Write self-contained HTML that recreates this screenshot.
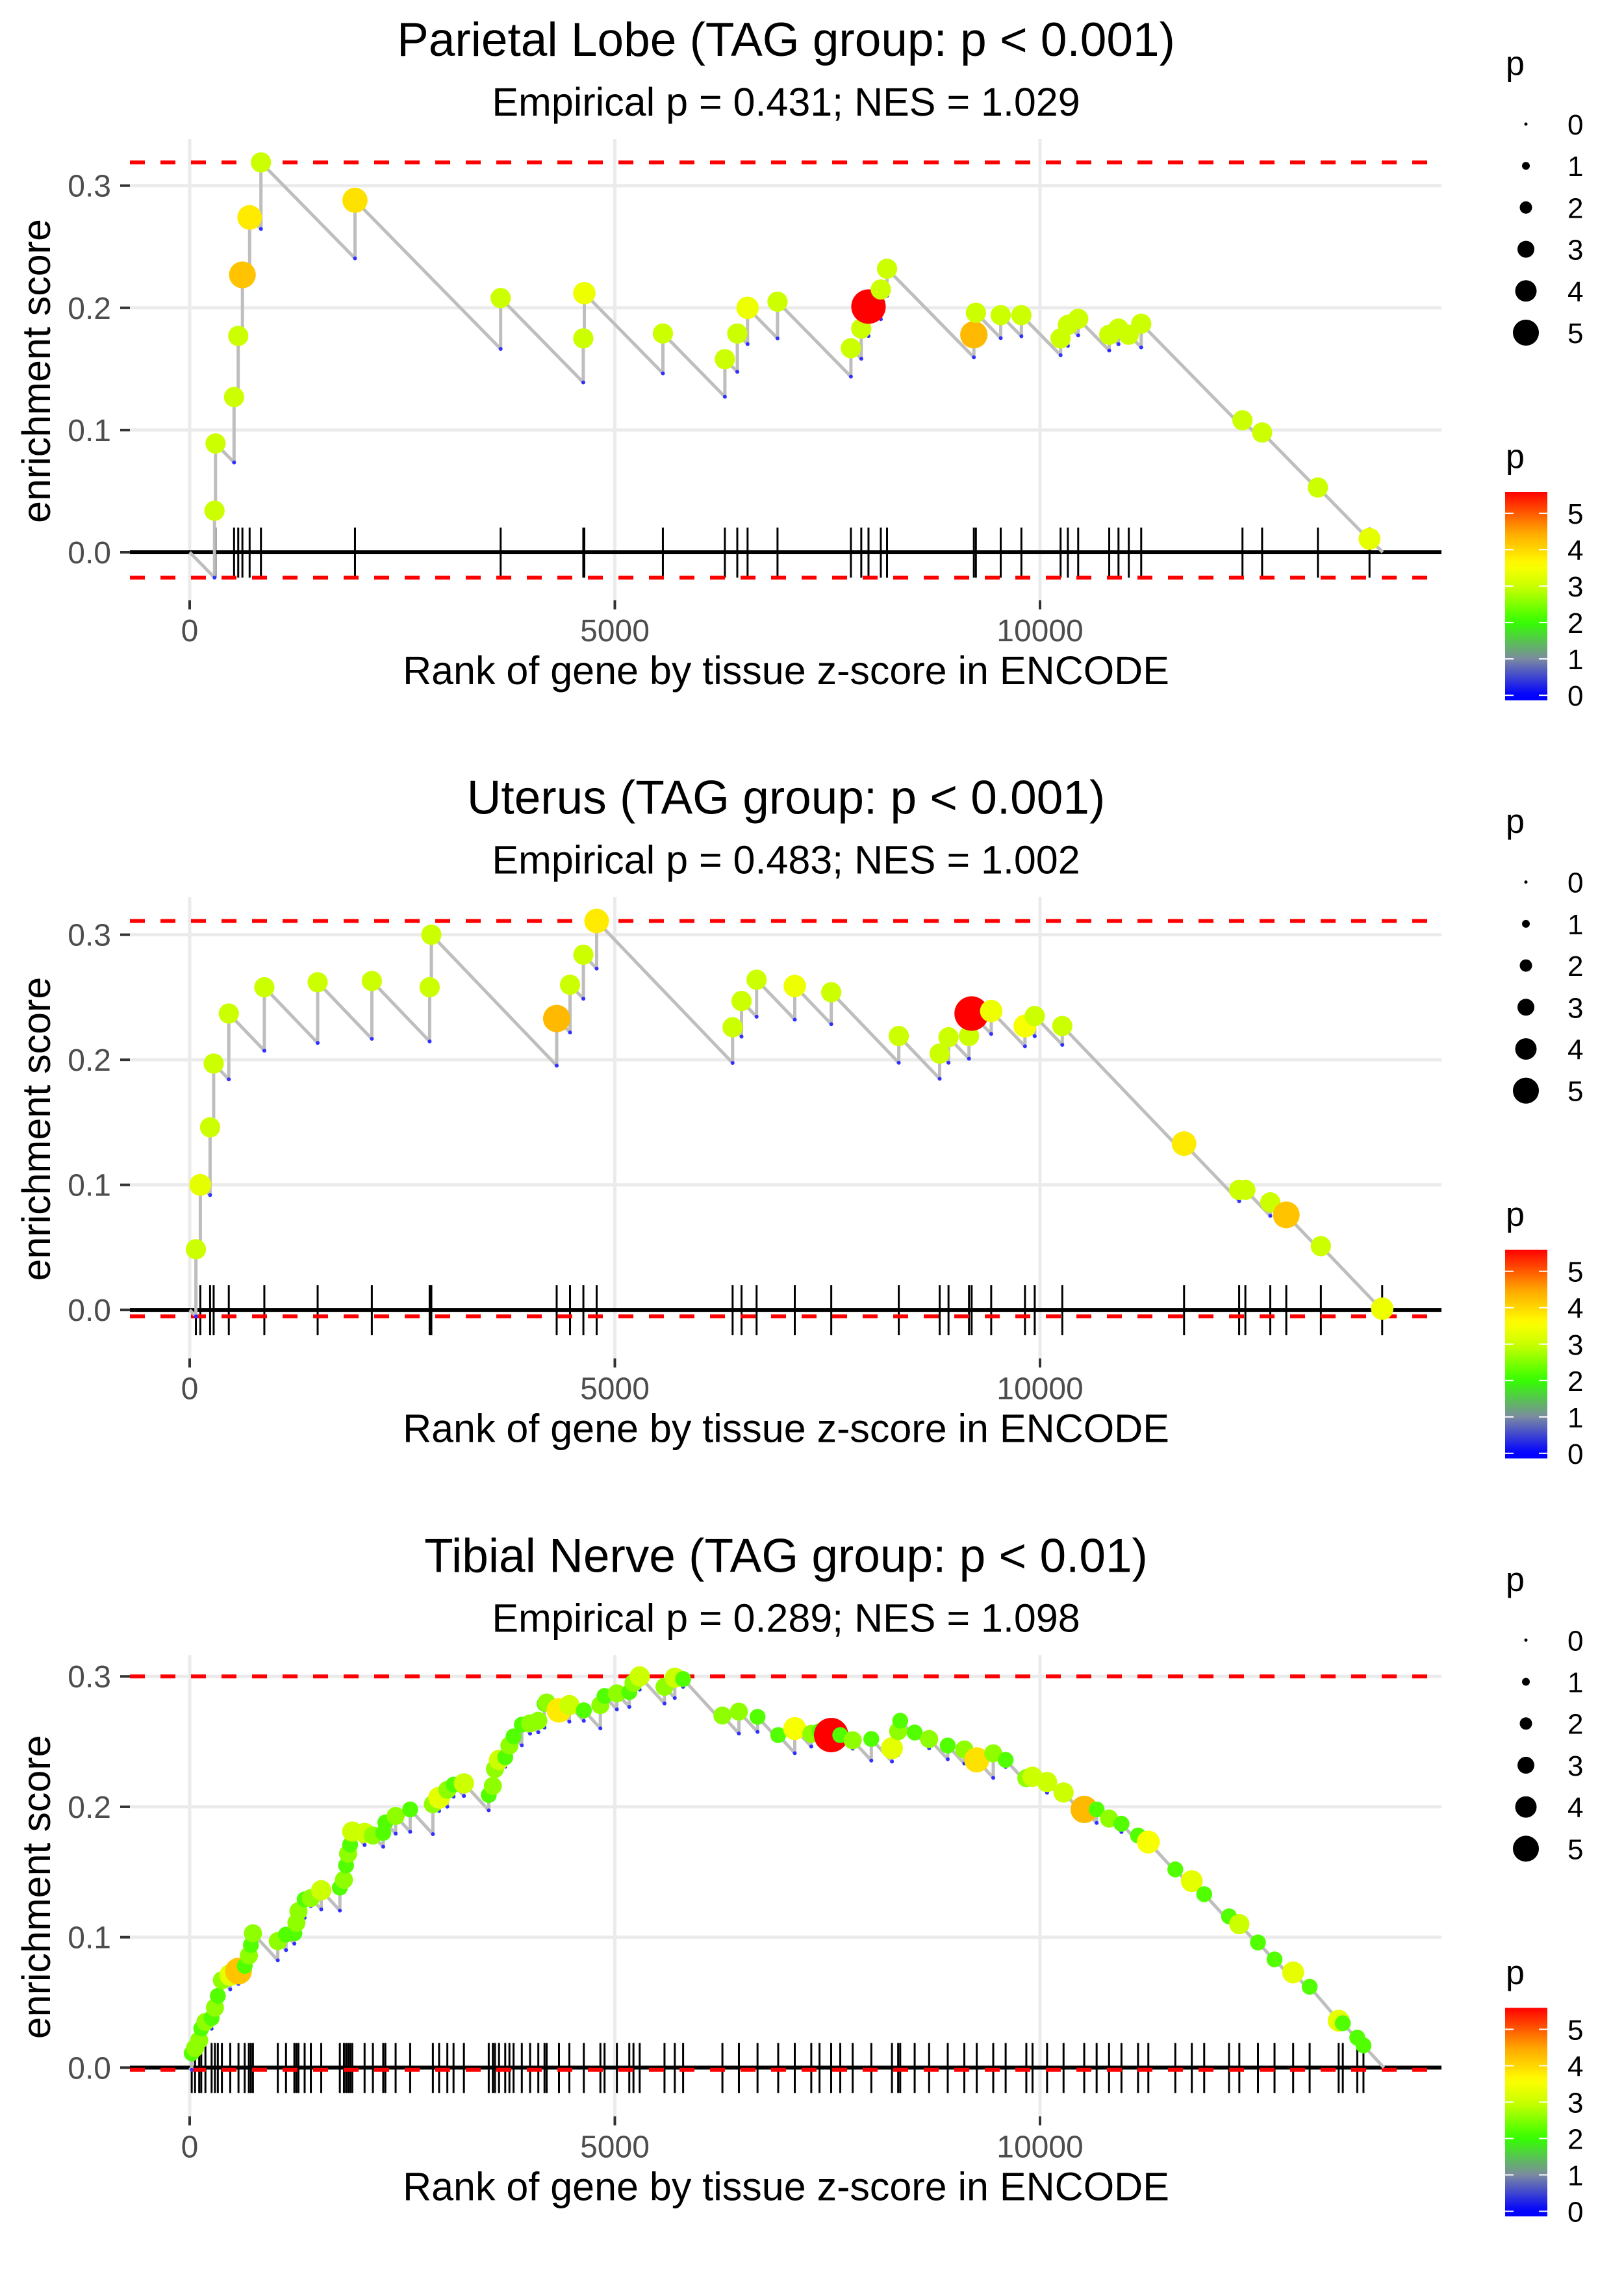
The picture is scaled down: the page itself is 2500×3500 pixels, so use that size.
<!DOCTYPE html>
<html><head><meta charset="utf-8">
<style>
html,body{margin:0;padding:0;background:#fff;}
svg{display:block;font-family:"Liberation Sans",sans-serif;}
</style></head>
<body>
<svg id="chart" width="2500" height="3500" viewBox="0 0 2500 3500" xmlns="http://www.w3.org/2000/svg"></svg>
<script>
// ---------- Data ----------
const panelTitles = ["Parietal Lobe (TAG group: p < 0.001)", "Uterus (TAG group: p < 0.001)", "Tibial Nerve (TAG group: p < 0.01)"];
const panelSubtitles = ["Empirical p = 0.431; NES = 1.029", "Empirical p = 0.483; NES = 1.002", "Empirical p = 0.289; NES = 1.098"];
const xTicks = [0, 5000, 10000];
const yTicks = [0.0, 0.1, 0.2, 0.3];
const yTickLabels = ["0.0", "0.1", "0.2", "0.3"];
const legendValues = [0, 1, 2, 3, 4, 5];
const missPenalty = 0.000071;

const p1Ranks = [292,304,522,571,620,705,838,1944,3657,4629,4641,5565,6294,6440,6561,6913,7776,7898,7983,8128,8201,9222,9246,9538,9781,10242,10328,10449,10814,10923,11044,11190,12381,12612,13268,13875];
const p1ES = [.034,.089,.127,.177,.227,.274,.319,.288,.208,.175,.212,.179,.158,.179,.2,.205,.167,.183,.201,.215,.232,.178,.196,.194,.194,.175,.186,.191,.178,.183,.178,.187,.108,.098,.053,.011];
const p1P = [3,3,3,3,4.2,3.8,3,3.9,3,3,3.4,3,3,3,3.4,3,3,3,5.6,3,3,4.3,3,3,3,3,3,3,3,3,3,3,3,3,3,3.3];

const p2Ranks = [73,125,240,282,460,878,1505,2142,2822,2842,4316,4473,4630,4786,6385,6490,6667,7116,7545,8339,8820,8924,9165,9196,9426,9823,9938,10262,11694,12342,12415,12708,12896,13303,14024];
const p2ES = [.0485,.100,.146,.197,.237,.258,.262,.263,.258,.300,.233,.260,.284,.311,.226,.247,.264,.259,.254,.219,.205,.218,.219,.237,.239,.227,.235,.227,.133,.096,.096,.086,.076,.051,.001];
const p2P = [3,3.3,3,3,3,3,3,3,3,3,4.3,3,3,3.8,3,3,3,3.4,3,3,3,3,3,5.6,3.4,3.5,3,3,3.8,3,3,3,4.2,3,3.4];

const p3Ranks = [24,63,112,136,185,258,297,331,379,477,
574,647,696,720,744,1036,1133,1231,1255,1279,
1352,1425,1547,1766,1814,1839,1863,1887,1912,2057,
2155,2276,2301,2422,2593,2860,2933,3030,3103,3225,
3517,3565,3590,3638,3711,3760,3809,3906,4003,4100,
4173,4198,4343,4465,4635,4830,4879,5024,5170,5219,
5292,5584,5705,5803,6265,6459,6678,6921,7116,7310,
7407,7544,7651,7797,8016,8259,8332,8356,8526,8696,
8915,9110,9256,9450,9596,9839,9912,10083,10277,10520,
10666,10812,10958,11153,11274,11591,11785,11931,12223,12344,
12563,12758,12977,13171,13512,13561,13731,13804];
const p3ES = [.011,.015,.021,.030,.035,.038,.046,.055,.067,.071,
.074,.078,.086,.094,.103,.097,.102,.103,.111,.120,
.129,.130,.136,.138,.144,.155,.164,.171,.181,.180,
.178,.180,.188,.193,.198,.202,.207,.213,.217,.218,
.209,.216,.229,.236,.238,.247,.254,.263,.264,.266,
.279,.280,.274,.278,.274,.278,.285,.287,.288,.295,
.300,.292,.299,.298,.270,.273,.269,.255,.260,.256,
.258,.255,.255,.251,.252,.245,.258,.266,.257,.252,
.247,.244,.236,.241,.236,.222,.223,.219,.211,.198,
.198,.191,.187,.178,.173,.152,.143,.133,.116,.110,
.096,.083,.073,.062,.036,.034,.023,.017];
const p3P = [2.2,2.6,2.6,2.2,2.6,2.2,2.6,2.2,2.6,3.3,
4.2,2.2,2.6,2.2,2.6,2.6,2.2,2.2,2.6,2.6,
2.2,2.6,3.0,2.2,2.6,2.2,2.6,2.2,3.0,3.0,
2.6,2.2,2.2,2.6,2.2,2.6,3.3,2.6,2.2,3.0,
2.2,2.6,2.6,3.0,2.2,2.6,2.2,2.2,2.6,2.6,
2.2,2.6,3.8,3.0,2.2,2.6,2.2,2.6,2.2,2.6,
3.0,2.6,3.0,2.2,2.6,2.6,2.2,2.2,3.5,2.6,
2.2,5.6,2.2,2.6,2.2,3.3,2.6,2.2,2.2,2.6,
2.2,2.6,3.9,2.6,2.2,2.6,3.0,3.0,3.0,4.3,
2.2,2.6,2.2,2.2,3.5,2.2,3.3,2.2,2.2,3.0,
2.2,2.2,3.3,2.2,3.3,2.2,2.2,2.2];

const allRanks = [p1Ranks, p2Ranks, p3Ranks];
const allES = [p1ES, p2ES, p3ES];
const allP = [p1P, p2P, p3P];

// ---------- Layout ----------
const NS = "http://www.w3.org/2000/svg";
const svg = document.getElementById("chart");
const PANEL_H = 3500 / 3;
const plotL = 200, plotR = 2219, plotT = 214, plotB = 924;
const zeroY = [850, 849.5, 849];
const pxPerUnit = [1881, 1925, 2007];
const xScale = r => 292 + r * 0.1309;
const colorStops = [[0,[0,0,255]],[1,[123,138,160]],[2,[51,255,0]],[3,[204,255,0]],[3.6,[255,255,0]],[4.5,[255,165,0]],[5.6,[255,0,0]]];
function pColor(v){
  if (v <= colorStops[0][0]) return "rgb(0,0,255)";
  for (let i = 1; i < colorStops.length; i++){
    if (v <= colorStops[i][0]){
      const a = colorStops[i-1], b = colorStops[i], t = (v - a[0]) / (b[0] - a[0]);
      const c = a[1].map((x, k) => Math.round(x + (b[1][k] - x) * t));
      return "rgb(" + c.join(",") + ")";
    }
  }
  return "rgb(255,0,0)";
}
const pRadius = v => 3 + 4.2 * v;
const legendRadius = v => 2.5 + 3.5 * v;

function mk(tag, attrs, parent){
  const e = document.createElementNS(NS, tag);
  for (const k in attrs) e.setAttribute(k, attrs[k]);
  parent.appendChild(e);
  return e;
}

for (let pi = 0; pi < 3; pi++){
  const g = mk("g", {transform: "translate(0," + (pi * PANEL_H) + ")"}, svg);
  
  
  const y0 = zeroY[pi], k = pxPerUnit[pi];
  const yScale = v => y0 - v * k;
  const ranks = allRanks[pi], es = allES[pi], ps = allP[pi];

  const t = mk("text", {x: 1210, y: 86, "text-anchor": "middle", "font-size": 73, fill: "#000"}, g);
  t.textContent = panelTitles[pi];
  
  
  const st = mk("text", {x: 1210, y: 178, "text-anchor": "middle", "font-size": 61, fill: "#000"}, g);
  st.textContent = panelSubtitles[pi];
  
  

  yTicks.forEach((v, i) => {
    const gl = mk("line", {x1: plotL, x2: plotR, y1: yScale(v), y2: yScale(v), stroke: "#EBEBEB", "stroke-width": 5}, g);
    
    
    const tk = mk("line", {x1: 185, x2: 200, y1: yScale(v), y2: yScale(v), stroke: "#333", "stroke-width": 4}, g);
    
    
    const tl = mk("text", {x: 171, y: yScale(v) + 17, "text-anchor": "end", "font-size": 48, fill: "#4D4D4D"}, g);
    tl.textContent = yTickLabels[i];
    
    
  });
  xTicks.forEach(v => {
    const gl = mk("line", {x1: xScale(v), x2: xScale(v), y1: plotT, y2: plotB, stroke: "#EBEBEB", "stroke-width": 5}, g);
    
    
    const tk = mk("line", {x1: xScale(v), x2: xScale(v), y1: plotB, y2: plotB + 14, stroke: "#333", "stroke-width": 4}, g);
    
    
    const tl = mk("text", {x: xScale(v), y: 987, "text-anchor": "middle", "font-size": 48, fill: "#4D4D4D"}, g);
    tl.textContent = String(v);
    
    
  });

  ranks.forEach(r => {
    const rl = mk("line", {x1: xScale(r), x2: xScale(r), y1: y0 - 38, y2: y0 + 39, stroke: "#000", "stroke-width": 3}, g);
    
    
  });
  const zl = mk("line", {x1: plotL, x2: plotR, y1: y0, y2: y0, stroke: "#000", "stroke-width": 6}, g);
  
  

  const pts = [[0, 0]];
  const bottoms = [];
  let prevR = 0, prevE = 0;
  ranks.forEach((r, i) => {
    let b = prevE - missPenalty * (r - prevR);
    if (b > es[i]) b = es[i];
    pts.push([r, b]); bottoms.push([r, b]);
    pts.push([r, es[i]]);
    prevR = r; prevE = es[i];
  });
  const endR = prevR + prevE / missPenalty;
  pts.push([endR, 0]);
  let minV = 0, maxV = 0;
  pts.forEach(p => { if (p[1] < minV) minV = p[1]; if (p[1] > maxV) maxV = p[1]; });

  [maxV, minV].forEach((v, i) => {
    const dl = mk("line", {x1: plotL, x2: plotR, y1: yScale(v), y2: yScale(v), stroke: "#FF0000", "stroke-width": 6, "stroke-dasharray": "23 24"}, g);
    
    
  });

  const path = mk("polyline", {points: pts.map(p => xScale(p[0]).toFixed(1) + "," + yScale(p[1]).toFixed(1)).join(" "), fill: "none", stroke: "#BEBEBE", "stroke-width": 5, "stroke-linejoin": "round"}, g);
  
  

  bottoms.forEach(b => {
    const c = mk("circle", {cx: xScale(b[0]), cy: yScale(b[1]), r: 3, fill: "#3030FF"}, g);
    
    
  });
  ranks.forEach((r, i) => {
    const c = mk("circle", {cx: xScale(r), cy: yScale(es[i]), r: pRadius(ps[i]), fill: pColor(ps[i])}, g);
    
    
  });

  const xt = mk("text", {x: 1210, y: 1053, "text-anchor": "middle", "font-size": 61, fill: "#000"}, g);
  xt.textContent = "Rank of gene by tissue z-score in ENCODE";
  
  
  const yt = mk("text", {x: 0, y: 0, transform: "translate(77,571) rotate(-90)", "text-anchor": "middle", "font-size": 61, fill: "#000"}, g);
  yt.textContent = "enrichment score";
  
  

  const sl = mk("g", {}, g);
  
  
  const slt = mk("text", {x: 2318, y: 115, "font-size": 52, fill: "#000"}, sl);
  slt.textContent = "p";
  
  
  legendValues.forEach((v, i) => {
    const yy = 191 + 64.2 * i;
    const c = mk("circle", {cx: 2349, cy: yy, r: legendRadius(v), fill: "#000"}, sl);
    
    
    const lt = mk("text", {x: 2413, y: yy + 16, "font-size": 44, fill: "#000"}, sl);
    lt.textContent = String(v);
    
    
  });

  const cl = mk("g", {}, g);
  
  
  const clt = mk("text", {x: 2318, y: 720, "font-size": 52, fill: "#000"}, cl);
  clt.textContent = "p";
  
  
  const barTop = 757, barBot = 1078, vTop = 5.59, vBot = -0.14;
  const defs = mk("defs", {}, cl);
  const grad = mk("linearGradient", {id: "cg" + pi, x1: 0, y1: 0, x2: 0, y2: 1}, defs);
  for (let s = 0; s <= 30; s++){
    const v = vTop - (vTop - vBot) * s / 30;
    mk("stop", {offset: (s / 30).toFixed(3), "stop-color": pColor(v)}, grad);
  }
  const bar = mk("rect", {x: 2317, y: barTop, width: 65, height: barBot - barTop, fill: "url(#cg" + pi + ")"}, cl);
  
  
  legendValues.forEach(v => {
    const yy = barBot - (v - vBot) / (vTop - vBot) * (barBot - barTop);
    mk("line", {x1: 2317, x2: 2330, y1: yy, y2: yy, stroke: "#fff", "stroke-width": 2}, cl);
    mk("line", {x1: 2369, x2: 2382, y1: yy, y2: yy, stroke: "#fff", "stroke-width": 2}, cl);
    const lt = mk("text", {x: 2413, y: yy + 16, "font-size": 44, fill: "#000"}, cl);
    lt.textContent = String(v);
    
    
  });
}
</script>
</body></html>
